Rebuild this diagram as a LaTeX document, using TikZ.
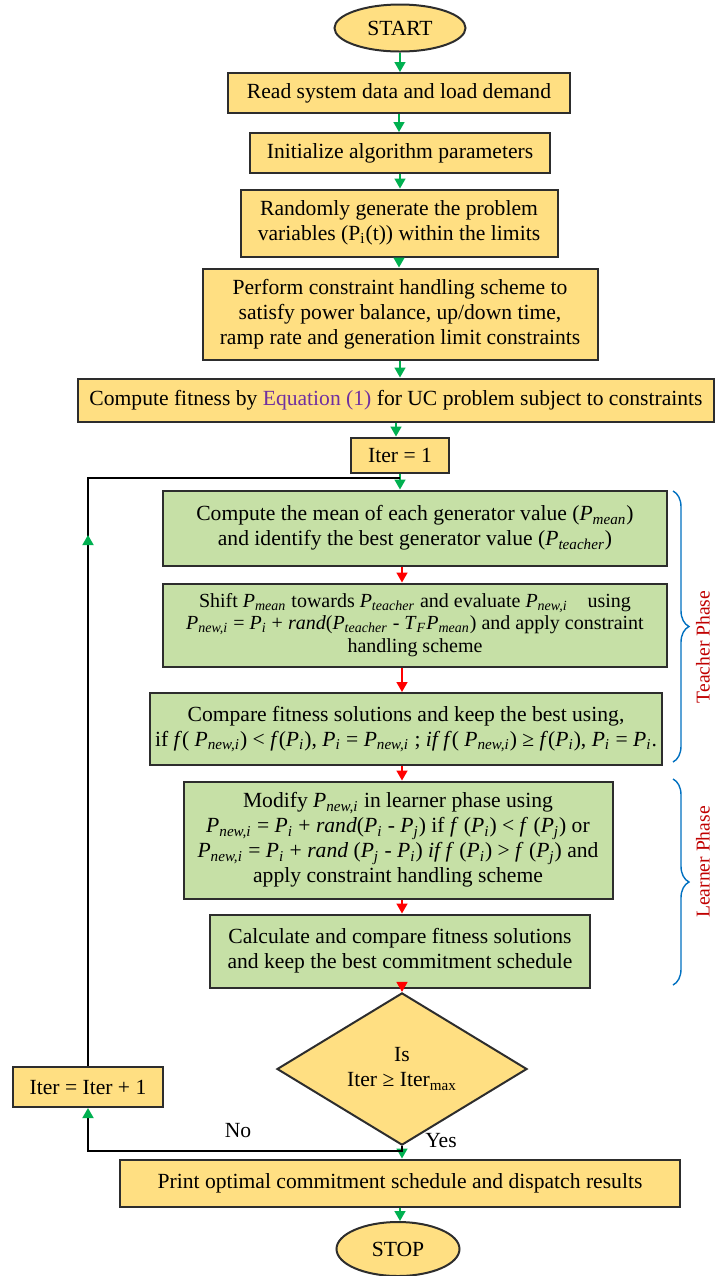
\documentclass[tikz,border=0pt]{standalone}
\usepackage{fontspec}
\setmainfont{Liberation Serif}
\usetikzlibrary{arrows.meta,shapes.geometric,decorations.pathreplacing,decorations.markings}
\definecolor{boxyellow}{RGB}{255,223,130}
\definecolor{boxgreen}{RGB}{198,224,166}
\definecolor{boxline}{RGB}{45,45,45}
\definecolor{arrowgreen}{RGB}{0,176,80}
\definecolor{arrowred}{RGB}{255,0,0}
\definecolor{bracelue}{RGB}{0,112,192}
\definecolor{phasered}{RGB}{192,0,0}
\definecolor{eqpurple}{RGB}{112,48,160}
\newcommand{\Psub}[1]{\textit{P}\textsubscript{\textit{#1}}}

\begin{document}
\begin{tikzpicture}[x = 0.5pt, y = -0.5pt,
	every node/.style = {font = \fontsize{10.8}{12.5}\selectfont, align = center, inner sep = 0pt},
	yellowbox/.style = {draw = boxline, line width = 1pt, fill = boxyellow},
	greenbox/.style = {draw = boxline, line width = 1pt, fill = boxgreen},
	garrow/.style = {draw = arrowgreen, line width = 0.8pt, -{Triangle[length = 5pt, width = 5.5pt]}},
	rarrow/.style = {draw = arrowred, line width = 0.8pt, -{Triangle[length = 5pt, width = 5.5pt]}},
	loopline/.style = {draw = black, line width = 0.9pt},
	phasebrace/.style = {draw = bracelue, line width = 0.7pt, decorate, decoration = {brace, amplitude = 8pt}},
	phaselabel/.style = {text = phasered, rotate = 90, font = \fontsize{9.8}{12}\selectfont}]
	\useasboundingbox (0, 0) rectangle (715, 1276);
	% start and set-up
	\node[yellowbox, shape = ellipse, minimum width = 65.5pt, minimum height = 23.5pt] (start) at (400, 28) {START};
	\node[yellowbox, minimum width = 171pt, minimum height = 20pt] (read) at (399, 93) {Read system data and load demand};
	\node[yellowbox, minimum width = 150pt, minimum height = 20pt] (init) at (400, 153) {Initialize algorithm parameters};
	\node[yellowbox, minimum width = 158.5pt, minimum height = 33.5pt] (rand) at (399, 223) {Randomly generate the problem\\ variables (P\textsubscript{i}(t)) within the limits};
	\node[yellowbox, minimum width = 197.5pt, minimum height = 45.5pt] (cons) at (400, 314) {Perform constraint handling scheme to\\ satisfy power balance, up/down time,\\ ramp rate and generation limit constraints};
	\node[yellowbox, minimum width = 318pt, minimum height = 21.5pt] (fit) at (396, 400) {Compute fitness by \textcolor{eqpurple}{Equation (1)} for UC problem subject to constraints};
	\node[yellowbox, minimum width = 49pt, minimum height = 17.5pt] (iter1) at (400, 455) {Iter = 1};
	% teacher phase
	\node[greenbox, minimum width = 252pt, minimum height = 37.5pt] (mean) at (415, 528) {Compute the mean of each generator value (\Psub{mean})\\ and identify the best generator value (\Psub{teacher})};
	\node[greenbox, minimum width = 252pt, minimum height = 41.5pt, font = \fontsize{10}{11.2}\selectfont] (shift) at (415, 625) {Shift \Psub{mean} towards \Psub{teacher} and evaluate \Psub{new,i}\quad using\\ \Psub{new,i} = \Psub{i} + \textit{rand}(\Psub{teacher} - \textit{T}\textsubscript{\textit{F}}\Psub{mean}) and apply constraint\\ handling scheme};
	\node[greenbox, minimum width = 256pt, minimum height = 36pt] (comp) at (406, 729) {Compare fitness solutions and keep the best using,\\ if \textit{f}( \Psub{new,i}) < \textit{f}(\Psub{i}), \Psub{i} = \Psub{new,i} ; \textit{if f}( \Psub{new,i}) ≥ \textit{f}(\Psub{i}), \Psub{i} = \Psub{i}.};
	% learner phase
	\node[greenbox, minimum width = 214.5pt, minimum height = 58.5pt] (modify) at (398, 840) {Modify \Psub{new,i} in learner phase using\\ \Psub{new,i} = \Psub{i} + \textit{rand}(\Psub{i} - \Psub{j}) if \textit{f} (\Psub{i}) < \textit{f} (\Psub{j}) or\\ \Psub{new,i} = \Psub{i} + \textit{rand} (\Psub{j} - \Psub{i}) \textit{if f} (\Psub{i}) > \textit{f} (\Psub{j}) and\\ apply constraint handling scheme};
	\node[greenbox, minimum width = 190pt, minimum height = 36.5pt] (calc) at (400, 951) {Calculate and compare fitness solutions\\ and keep the best commitment schedule};
	% check and end
	\node[yellowbox, shape = diamond, minimum width = 125pt, minimum height = 66pt] (check) at (402, 1069) {Is\\ Iter ≥ Iter\textsubscript{max}};
	\node[yellowbox, minimum width = 75pt, minimum height = 20pt] (incr) at (88, 1087) {Iter = Iter + 1};
	\node[yellowbox, minimum width = 280pt, minimum height = 23.5pt] (print) at (400, 1183) {Print optimal commitment schedule and dispatch results};
	\node[yellowbox, shape = ellipse, minimum width = 61.5pt, minimum height = 27pt] (stop) at (398, 1249) {STOP};
	\coordinate (join) at (400, 478);
	% connectors
	\foreach \a/\b in {start/read, read/init, init/rand, rand/cons, cons/fit, fit/iter1, iter1/mean, check/print, print/stop}{
		\draw[garrow] (\a) -- (\a |- \b.north);}
	\foreach \a/\b in {mean/shift, shift/comp, comp/modify, modify/calc, calc/check}{
		\draw[rarrow] (\a.south -| check) -- (check |- \b.north);}
	\draw[loopline, postaction = {decorate}, decoration = {markings, mark = at position 0.59 with {\arrow{Triangle[length = 5pt, width = 5.5pt, color = arrowgreen]}}}] (incr.north) |- (join);
	\draw[loopline, -{Triangle[length = 5pt, width = 5.5pt, color = arrowgreen]}] (check.south) -- ++(0, 5) -| (incr.south);
	\node (no) at (238, 1131) {No};
	\node (yes) at (441, 1141) {Yes};
	% phase braces
	\draw[phasebrace] (673, 491) -- (673, 762);
	\draw[phasebrace] (673, 779) -- (673, 985);
	\node[phaselabel] (teacher) at (703, 647) {Teacher Phase};
	\node[phaselabel] (learner) at (703, 862) {Learner Phase};
\end{tikzpicture}
\end{document}
